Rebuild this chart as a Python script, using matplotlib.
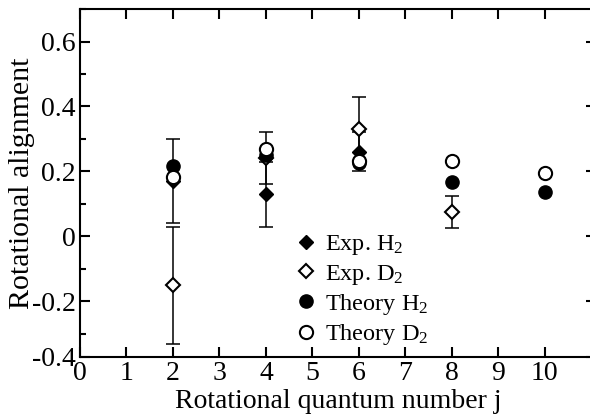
import matplotlib
matplotlib.use('Agg')
import matplotlib.pyplot as plt
from matplotlib.ticker import MultipleLocator

plt.rcParams['font.family'] = ['Liberation Serif', 'DejaVu Serif']
plt.rcParams['mathtext.fontset'] = 'custom'
plt.rcParams['mathtext.rm'] = 'Liberation Serif'
plt.rcParams['mathtext.it'] = 'Liberation Serif:italic'

# experimental alignment (with error bars)
exp_h2_j = [2, 4, 6]
exp_h2_val = [0.17, 0.13, 0.26]
exp_h2_err = [0.13, 0.10, 0.06]

exp_d2_j = [2, 4, 6, 8]
exp_d2_val = [-0.15, 0.24, 0.33, 0.075]
exp_d2_err = [0.18, 0.08, 0.10, 0.05]

# theory
th_h2_j = [2, 4, 6, 8, 10]
th_h2_val = [0.217, 0.25, 0.225, 0.168, 0.137]
th_d2_j = [2, 4, 6, 8, 10]
th_d2_val = [0.183, 0.268, 0.231, 0.233, 0.195]

xticks = list(range(0, 11))
yticks = [-0.2, 0, 0.2, 0.4, 0.6]
ytick_labels = ['-0.2', '0', '0.2', '0.4', '0.6']

fig = plt.figure(figsize=(5.9, 4.19), dpi=100)
# right edge of the frame runs just past the image border (as in the original)
ax = fig.add_axes([0.1356, 0.1487, 0.8746, 0.8298])

fs = 20

# error bars first, markers on top
ax.errorbar(exp_h2_j, exp_h2_val, yerr=exp_h2_err, fmt='none', ecolor='black',
            elinewidth=1.1, capsize=5, capthick=1.1, zorder=2)
ax.errorbar(exp_d2_j, exp_d2_val, yerr=exp_d2_err, fmt='none', ecolor='black',
            elinewidth=1.1, capsize=5, capthick=1.1, zorder=2)

ax.plot(exp_h2_j, exp_h2_val, 'D', mfc='black', mec='black', ms=7, ls='none',
        label='Exp. H$_2$', zorder=3)
ax.plot(exp_d2_j, exp_d2_val, 'D', mfc='white', mec='black', mew=1.5, ms=7, ls='none',
        label='Exp. D$_2$', zorder=3)
ax.plot(th_h2_j, th_h2_val, 'o', mfc='black', mec='black', ms=9.5, ls='none',
        label='Theory H$_2$', zorder=4)
ax.plot(th_d2_j, th_d2_val, 'o', mfc='white', mec='black', mew=1.5, ms=9.5, ls='none',
        label='Theory D$_2$', zorder=5)

ax.set_xlim(0, 11.1)
ax.set_ylim(-0.37, 0.70)
ax.set_xticks(xticks)
ax.set_xticklabels([str(t) for t in xticks])
ax.set_yticks(yticks + [-0.37])
ax.set_yticklabels(ytick_labels + ['-0.4'])
ax.yaxis.set_minor_locator(MultipleLocator(0.1))

ax.tick_params(which='both', direction='in', top=True, right=True, width=1.5,
               labelsize=fs, pad=3)
ax.tick_params(which='major', length=7)
ax.tick_params(which='minor', length=4)
for s in ax.spines.values():
    s.set_linewidth(1.5)
ax.spines['right'].set_visible(False)

ax.set_xlabel('Rotational quantum number j', fontsize=20, labelpad=2)
ax.set_ylabel('Rotational alignment', fontsize=21.5, labelpad=-2)

ax.legend(loc='upper left', bbox_to_anchor=(0.414, 0.355), frameon=False,
          fontsize=17.5, handletextpad=0.3, labelspacing=0.22,
          handlelength=1.0, borderaxespad=0, borderpad=0)

fig.savefig('out.png', dpi=100)
